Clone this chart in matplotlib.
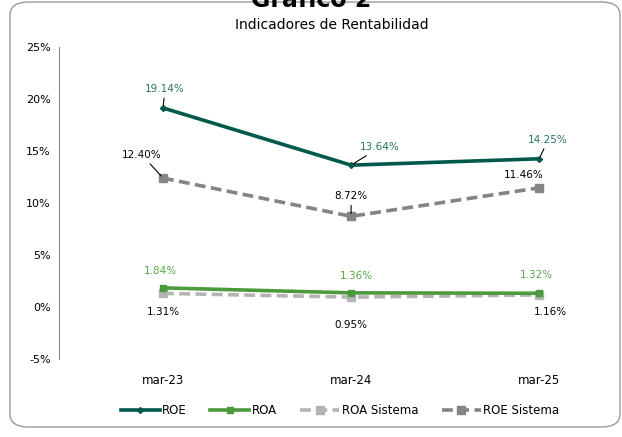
import matplotlib
matplotlib.use("Agg")
import matplotlib.pyplot as plt
from matplotlib.patches import FancyBboxPatch
from matplotlib.lines import Line2D

# ==========================================
# DATA
# ==========================================
periods = ["mar-23", "mar-24", "mar-25"]
roe = [19.14, 13.64, 14.25]
roa = [1.84, 1.36, 1.32]
roa_sistema = [1.31, 0.95, 1.16]
roe_sistema = [12.40, 8.72, 11.46]

# label offsets in pixels (dx, dy)
roe_off = [(2, 19), (29, 18), (9, 19)]
roa_off = [(-3, 17), (5, 17), (-3, 18)]
roas_off = [(0, -19), (0, -28), (11, -17)]
roes_off = [(-21, 23), (0, 20), (-15, 13)]

c_roe = "#00594a"
c_roa = "#4c9a3e"
c_roas = "#b4b4b4"
c_roes = "#848484"

plt.rcParams["font.family"] = ["DejaVu Sans"]

fig = plt.figure(figsize=(6.22, 4.37), dpi=100)

# frame around the chart
box = FancyBboxPatch((10 / 622, 10 / 437), 610 / 622, 425 / 437,
                     boxstyle="round,pad=0,rounding_size=0.03",
                     transform=fig.transFigure, fill=False,
                     edgecolor="#9a9a9a", linewidth=1.0)
fig.patches.append(box)

fig.text(0.5, 1 - 7 / 437, "Gráfico 2", ha="center", va="baseline",
         fontsize=17, fontweight="bold")

ax = fig.add_axes([59 / 622, 1 - 359 / 437, 546 / 622, 312 / 437])
x = list(range(len(periods)))

ax.plot(x, roe, color=c_roe, lw=2.6, marker="D", ms=3, zorder=5)
ax.plot(x, roa, color=c_roa, lw=2.6, marker="s", ms=5, zorder=4)
ax.plot(x, roa_sistema, color=c_roas, lw=2.6, ls=(0, (3, 1.5)),
        marker="s", ms=6, zorder=3)
ax.plot(x, roe_sistema, color=c_roes, lw=2.6, ls=(0, (3, 1.5)),
        marker="s", ms=6, zorder=3)

ax.set_xlim(-0.553, 2.35)
ax.set_ylim(-5, 25)
ax.set_yticks(range(-5, 26, 5))
ax.set_yticklabels([f"{v}%" for v in range(-5, 26, 5)], fontsize=8)
ax.set_xticks(x)
ax.set_xticklabels(periods, fontsize=8.5)
ax.tick_params(axis="y", length=0, pad=6)
ax.tick_params(axis="x", length=0, pad=11)
for s in ["top", "right", "bottom"]:
    ax.spines[s].set_visible(False)
ax.spines["left"].set_color("#8c8c8c")
ax.spines["left"].set_linewidth(0.8)

ax.set_title("Indicadores de Rentabilidad", fontsize=10, pad=13)


def add_labels(vals, offs, color, leaders):
    for i, (v, (dx, dy)) in enumerate(zip(vals, offs)):
        props = None
        if leaders[i]:
            props = dict(arrowstyle="-", color="black", lw=0.8,
                         shrinkA=1, shrinkB=2)
        ax.annotate(f"{v:.2f}%", xy=(i, v), xytext=(dx, dy),
                    textcoords="offset pixels", ha="center", va="center",
                    fontsize=7.5, color=color, arrowprops=props, zorder=6)


add_labels(roe, roe_off, "#2a7466", [True, True, True])
add_labels(roa, roa_off, "#5aa84a", [False, False, False])
add_labels(roa_sistema, roas_off, "black", [False, False, False])
add_labels(roe_sistema, roes_off, "black", [True, True, False])

handles = [
    Line2D([], [], color=c_roe, lw=2.6, marker="D", ms=3),
    Line2D([], [], color=c_roa, lw=2.6, marker="s", ms=5),
    Line2D([], [], color=c_roas, lw=2.6, ls=(0, (3, 1.5)), marker="s", ms=6),
    Line2D([], [], color=c_roes, lw=2.6, ls=(0, (3, 1.5)), marker="s", ms=6),
]
fig.legend(handles, ["ROE", "ROA", "ROA Sistema", "ROE Sistema"],
           loc="center", bbox_to_anchor=(340 / 622, 1 - 411 / 437), ncol=4,
           frameon=False, fontsize=8.5, handlelength=3.3, handletextpad=0.2,
           columnspacing=2.0)

fig.savefig("out.png", dpi=100)
